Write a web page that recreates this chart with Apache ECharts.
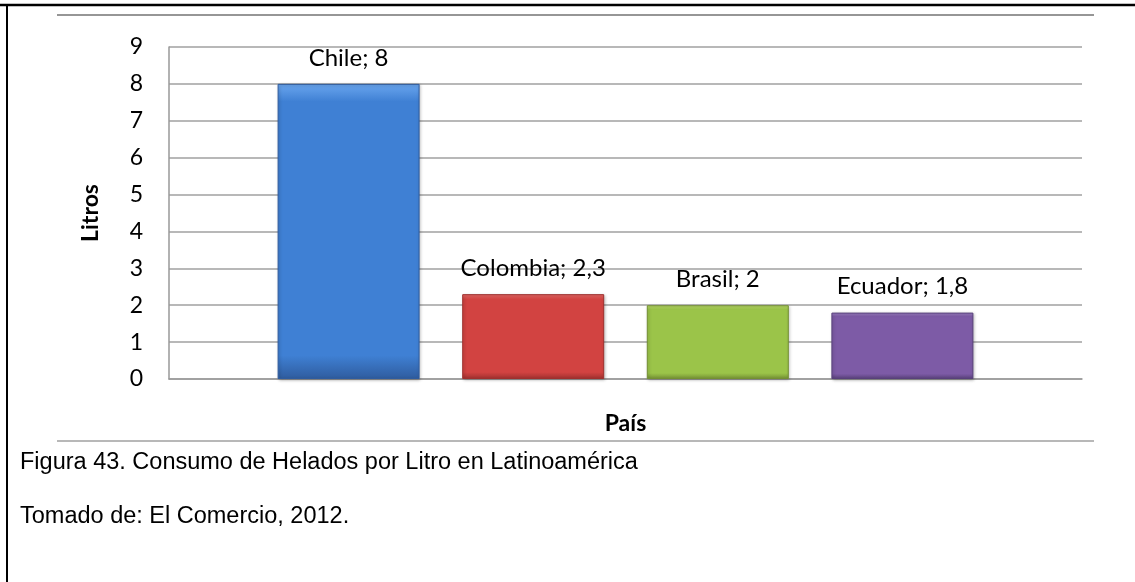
<!DOCTYPE html>
<html>
<head>
<meta charset="utf-8">
<script src="https://cdn.jsdelivr.net/npm/echarts@6/dist/echarts.min.js"></script>
<style>
html,body{margin:0;padding:0;background:#fff;}
#c{width:1135px;height:582px;}
</style>
</head>
<body>
<div id="c"></div>
<script>
const countries = ['Chile', 'Colombia', 'Brasil', 'Ecuador'];
const litros = [8, 2.3, 2, 1.8];
const yTicks = [0, 9, 1]; // min, max, interval
const barTop = ['#6aa6ee', '#ea6c69', '#bfe06c', '#a084c8'];
const barMid = ['#3f80d4', '#d24341', '#9bc449', '#7d5ba6'];
const barBot = ['#2f5c9e', '#9e302e', '#738f33', '#58407a'];
const captions = ['Figura 43. Consumo de Helados por Litro en Latinoamérica', 'Tomado de: El Comercio, 2012.'];

const chartFont = 'Lato';
const fmt = v => String(v).replace('.', ',');

const series = countries.map((name, i) => ({
  type: 'bar',
  name: name,
  data: [litros[i]],
  barWidth: 142,
  barGap: '30%',
  itemStyle: {
    color: {
      type: 'linear', x: 0, y: 0, x2: 0, y2: 1,
      colorStops: [
        {offset: 0, color: barTop[i]},
        {offset: 0.06, color: barMid[i]},
        {offset: 0.92, color: barMid[i]},
        {offset: 1, color: barBot[i]}
      ]
    },
    borderColor: barBot[i],
    borderWidth: 1,
    shadowColor: 'rgba(0,0,0,0.25)',
    shadowBlur: 3,
    shadowOffsetX: 1,
    shadowOffsetY: 1
  },
  label: {
    show: true,
    position: 'top',
    distance: 14,
    formatter: p => p.seriesName + '; ' + fmt(p.value),
    fontFamily: chartFont,
    fontSize: 24,
    color: '#000'
  }
}));

const chart = echarts.init(document.getElementById('c'));
chart.setOption({
  backgroundColor: '#fff',
  animation: false,
  grid: {left: 169, right: 53, top: 47, bottom: 203},
  xAxis: {
    type: 'category',
    data: [''],
    axisLine: {show: true, lineStyle: {color: '#999', width: 1.5}},
    axisTick: {show: false},
    axisLabel: {show: false},
    name: 'País',
    nameLocation: 'middle',
    nameGap: 33,
    nameTextStyle: {fontFamily: chartFont, fontWeight: 'bold', fontSize: 23, color: '#000'}
  },
  yAxis: {
    type: 'value',
    min: yTicks[0], max: yTicks[1], interval: yTicks[2],
    axisLine: {show: true, lineStyle: {color: '#999', width: 1.5}},
    axisTick: {show: false},
    splitLine: {show: true, lineStyle: {color: '#a0a0a0', width: 1.5}},
    axisLabel: {fontFamily: chartFont, fontSize: 23, color: '#000', margin: 26},
    name: 'Litros',
    nameLocation: 'middle',
    nameGap: 67,
    nameRotate: 90,
    nameTextStyle: {fontFamily: chartFont, fontWeight: 'bold', fontSize: 23, color: '#000'}
  },
  series: series,
  graphic: [
    {type: 'line', shape: {x1: 0, y1: 5, x2: 1135, y2: 5}, style: {stroke: '#000', lineWidth: 2.5}},
    {type: 'line', shape: {x1: 7, y1: 4, x2: 7, y2: 582}, style: {stroke: '#000', lineWidth: 2}},
    {type: 'line', shape: {x1: 57, y1: 15, x2: 1094, y2: 15}, style: {stroke: '#969696', lineWidth: 2}},
    {type: 'line', shape: {x1: 57, y1: 441, x2: 1094, y2: 441}, style: {stroke: '#a0a0a0', lineWidth: 1.5}},
    {type: 'text', left: 20, top: 451, style: {text: captions[0], font: '23.5px "Liberation Sans", Arial, sans-serif', fill: '#000'}},
    {type: 'text', left: 20, top: 505, style: {text: captions[1], font: '23.5px "Liberation Sans", Arial, sans-serif', fill: '#000'}}
  ]
});
</script>
</body>
</html>
